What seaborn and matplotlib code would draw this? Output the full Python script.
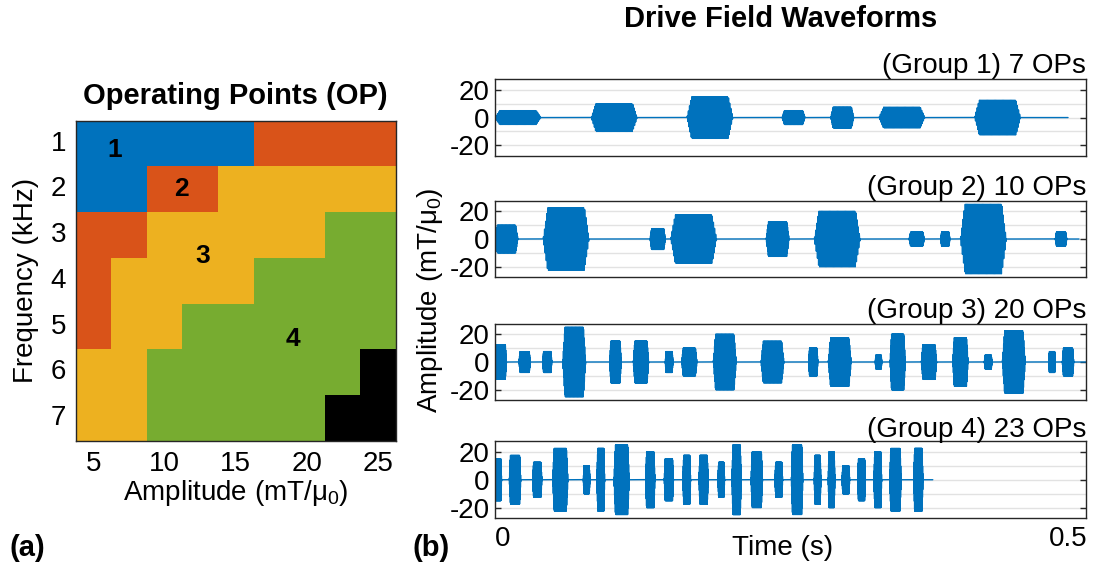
import numpy as np
import pandas as pd
import matplotlib
matplotlib.use("Agg")
import matplotlib.pyplot as plt
import matplotlib.transforms as mtransforms
from matplotlib.colors import ListedColormap
import seaborn as sns

# ---------------------------------------------------------------- data
amplitudes_mT = [5, 7.5, 10, 12.5, 15, 17.5, 20, 22.5, 25]
frequencies_kHz = [1, 2, 3, 4, 5, 6, 7]
amp_tick_labels = ["5", "", "10", "", "15", "", "20", "", "25"]

# operating-point group of every (frequency, amplitude) pair; 5 = not driven
op_group = [
    [1, 1, 1, 1, 1, 2, 2, 2, 2],
    [1, 1, 2, 2, 3, 3, 3, 3, 3],
    [2, 2, 3, 3, 3, 3, 3, 4, 4],
    [2, 3, 3, 3, 3, 4, 4, 4, 4],
    [2, 3, 3, 4, 4, 4, 4, 4, 4],
    [3, 3, 4, 4, 4, 4, 4, 4, 5],
    [3, 3, 4, 4, 4, 4, 4, 5, 5],
]
group_names = ["1", "2", "3", "4"]

# burst sequences: start time (s), amplitude (mT/mu0), frequency (kHz)
g1_start = [0.000, 0.084, 0.1675, 0.2505, 0.293, 0.335, 0.4185]
g1_amp = [5, 10, 15, 5, 7.5, 7.5, 12.5]
g1_freq = [1, 1, 1, 2, 2, 1, 1]
g1_end = 0.500

g2_start = [0.000, 0.042, 0.1353, 0.1533, 0.2366, 0.2786, 0.3613, 0.3889, 0.4061, 0.4889]
g2_amp = [10, 22.5, 7.5, 17.5, 12.5, 20, 5, 5, 25, 5]
g2_freq = [2, 1, 3, 1, 2, 1, 3, 5, 1, 4]
g2_end = 0.5096

g3_start = [0.000, 0.0209, 0.0416, 0.0591, 0.1001, 0.1207, 0.1486, 0.1629, 0.1905, 0.2321,
            0.2737, 0.2908, 0.3318, 0.3447, 0.3720, 0.3994, 0.4270, 0.4427, 0.4832, 0.4950]
g3_amp = [12.5, 7.5, 7.5, 25, 15, 15, 7.5, 10, 20, 15,
          10, 17.5, 5, 20, 12.5, 17.5, 5, 22.5, 7.5, 10]
g3_freq = [4, 4, 5, 2, 4, 3, 6, 3, 2, 2,
           5, 2, 7, 3, 3, 3, 6, 2, 7, 4]
g3_end = 0.516

g4_start = [0.000, 0.0125, 0.0329, 0.0503, 0.0771, 0.0890, 0.1038, 0.1315, 0.1477, 0.1640,
            0.1780, 0.1946, 0.2068, 0.2234, 0.2443, 0.2586, 0.2786, 0.2908, 0.3028, 0.3165,
            0.3307, 0.3444, 0.3654]
g4_amp = [15, 17.5, 12.5, 22.5, 10, 22.5, 25, 20, 15, 17.5,
          17.5, 12.5, 25, 20, 12.5, 25, 17.5, 20, 10, 15,
          20, 22.5, 22.5]
g4_freq = [7, 4, 5, 3, 7, 6, 3, 5, 5, 6,
           5, 7, 5, 4, 6, 4, 7, 7, 6, 6,
           6, 4, 5]
g4_end = 0.382

group_titles = ["(Group 1) 7 OPs", "(Group 2) 10 OPs", "(Group 3) 20 OPs", "(Group 4) 23 OPs"]

# burst shape: fixed number of cycles with linear ramps at both ends
N_CYCLES = 40
RAMP_CYCLES = 4
FS = 200_000

# ---------------------------------------------------------------- style
sns.set_theme(style="white")
plt.rcParams["font.family"] = ["Liberation Sans", "DejaVu Sans"]
plt.rcParams["axes.unicode_minus"] = False
plt.rcParams["mathtext.fontset"] = "custom"
plt.rcParams["mathtext.rm"] = "Liberation Sans"
plt.rcParams["mathtext.default"] = "regular"
plt.rcParams["text.color"] = "black"
plt.rcParams["axes.labelcolor"] = "black"
plt.rcParams["xtick.labelcolor"] = "black"
plt.rcParams["ytick.labelcolor"] = "black"

BLUE = "#0072BD"
ORANGE = "#D95319"
YELLOW = "#EDB120"
GREEN = "#77AC30"
EDGE = "#262626"
GRID = "#E2E2E2"
FS_LABEL = 20

fig = plt.figure(figsize=(10.99, 5.66), dpi=100)


def drive_signal(starts, amps, freqs, t_end):
    t = np.arange(0.0, t_end, 1.0 / FS)
    y = np.zeros_like(t)
    for s, a, f in zip(starts, amps, freqs):
        f_hz = f * 1000.0
        dur = N_CYCLES / f_hz
        ramp = RAMP_CYCLES / f_hz
        m = (t >= s) & (t < s + dur)
        tau = t[m] - s
        env = np.clip(np.minimum(tau, dur - tau) / ramp, 0.0, 1.0)
        y[m] = a * env * np.sin(2 * np.pi * f_hz * tau)
    return pd.DataFrame({"time": t, "field": y})


# ---------------------------------------------------------------- (a) operating points
ax_op = fig.add_axes([0.0689, 0.2208, 0.2912, 0.566])
grid_df = pd.DataFrame(op_group, index=frequencies_kHz, columns=amplitudes_mT)
cmap = ListedColormap([BLUE, ORANGE, YELLOW, GREEN, "black"])
sns.heatmap(grid_df, ax=ax_op, cmap=cmap, vmin=0.5, vmax=5.5, cbar=False,
            linewidths=0, square=False)

ax_op.set_xticks(np.arange(len(amplitudes_mT)) + 0.5)
ax_op.set_xticklabels(amp_tick_labels, rotation=0, fontsize=FS_LABEL)
ax_op.set_yticks(np.arange(len(frequencies_kHz)) + 0.5)
ax_op.set_yticklabels([str(f) for f in frequencies_kHz], rotation=0, fontsize=FS_LABEL)
ax_op.tick_params(direction="in", length=4, width=1, color=EDGE,
                  top=True, right=True, bottom=True, left=True, pad=7)
for sp in ax_op.spines.values():
    sp.set_visible(True)
    sp.set_color(EDGE)
    sp.set_linewidth(1.0)
ax_op.set_xlabel("Amplitude (mT/μ$_0$)", fontsize=FS_LABEL, labelpad=1)
ax_op.set_ylabel("Frequency (kHz)", fontsize=FS_LABEL, labelpad=8)
ax_op.set_title("Operating Points (OP)", fontsize=21, fontweight="bold", pad=12)

label_pos = [(1.1, 0.65), (2.98, 1.5), (3.58, 2.96), (6.1, 4.78)]
for name, (x, y) in zip(group_names, label_pos):
    ax_op.text(x, y, name, ha="center", va="center", fontsize=19,
               fontweight="bold", color="black")

# ---------------------------------------------------------------- (b) waveforms
groups = [
    (g1_start, g1_amp, g1_freq, g1_end),
    (g2_start, g2_amp, g2_freq, g2_end),
    (g3_start, g3_amp, g3_freq, g3_end),
    (g4_start, g4_amp, g4_freq, g4_end),
]
bottoms = [0.7247, 0.5101, 0.2928, 0.0848]
XMAX = 0.5157

for i, ((st, am, fr, te), title, b) in enumerate(zip(groups, group_titles, bottoms)):
    ax = fig.add_axes([0.4504, b, 0.5378, 0.1352])
    df = drive_signal(st, am, fr, te)
    sns.lineplot(data=df, x="time", y="field", ax=ax, color=BLUE, linewidth=1.0,
                 estimator=None, sort=False, errorbar=None)
    ax.set_xlim(0, XMAX)
    ax.set_ylim(-27.5, 27.5)
    ax.set_yticks([-20, 0, 20])
    ax.set_yticks([-10, 10], minor=True)
    ax.set_yticklabels(["-20", "0", "20"], fontsize=FS_LABEL)
    ax.grid(True, which="both", axis="y", color=GRID, linewidth=1.0)
    ax.grid(False, axis="x")
    ax.set_axisbelow(True)
    ax.tick_params(axis="y", which="major", direction="in", length=4, width=1,
                   color=EDGE, left=True, right=True, pad=4)
    ax.tick_params(axis="y", which="minor", direction="in", length=0)
    ax.set_xlabel("")
    ax.set_ylabel("")
    for sp in ax.spines.values():
        sp.set_visible(True)
        sp.set_color(EDGE)
        sp.set_linewidth(1.0)
    ax.set_title(title, loc="right", fontsize=FS_LABEL, pad=3)
    if i < 3:
        ax.set_xticks([])
    else:
        ax.set_xticks([0, 0.5])
        ax.set_xticklabels(["0", "0.5"], fontsize=FS_LABEL)
        ax.tick_params(axis="x", direction="in", length=0, pad=6)
        shift = mtransforms.ScaledTranslation(8 / 100, 0, fig.dpi_scale_trans)
        first = ax.get_xticklabels()[0]
        first.set_transform(first.get_transform() + shift)

fig.text(0.391, 0.47, "Amplitude (mT/μ$_0$)", rotation=90, ha="center", va="center",
         fontsize=FS_LABEL)
fig.text(0.7125, 0.032, "Time (s)", ha="center", va="center", fontsize=FS_LABEL)
fig.text(0.71, 0.966, "Drive Field Waveforms", ha="center", va="center",
         fontsize=21, fontweight="bold")
fig.text(0.0246, 0.032, "(a)", ha="center", va="center", fontsize=21, fontweight="bold")
fig.text(0.392, 0.032, "(b)", ha="center", va="center", fontsize=21, fontweight="bold")

fig.savefig("out.png", dpi=100)
